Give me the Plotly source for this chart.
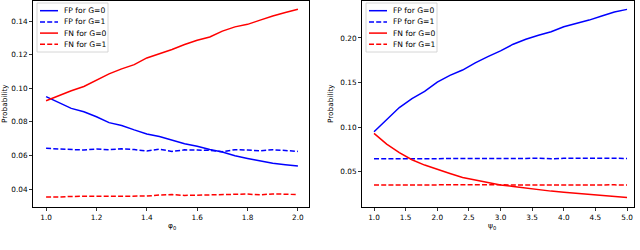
import plotly.graph_objects as go

# ---------------- data ----------------
x_left = [1.00, 1.05, 1.10, 1.15, 1.20, 1.25, 1.30, 1.35, 1.40, 1.45, 1.50,
          1.55, 1.60, 1.65, 1.70, 1.75, 1.80, 1.85, 1.90, 1.95, 2.00]
fp_g0_left = [0.0950, 0.0915, 0.0880, 0.0860, 0.0830, 0.0795, 0.0778, 0.0752, 0.0728, 0.0712, 0.0690,
              0.0670, 0.0655, 0.0635, 0.0620, 0.0598, 0.0582, 0.0568, 0.0553, 0.0545, 0.0537]
fp_g1_left = [0.0642, 0.0640, 0.0637, 0.0632, 0.0638, 0.0634, 0.0639, 0.0635, 0.0626, 0.0637, 0.0624,
              0.0633, 0.0632, 0.0630, 0.0622, 0.0634, 0.0632, 0.0627, 0.0634, 0.0630, 0.0624]
fn_g0_left = [0.0925, 0.0955, 0.0985, 0.1010, 0.1050, 0.1085, 0.1115, 0.1140, 0.1180, 0.1205, 0.1230,
              0.1260, 0.1285, 0.1305, 0.1340, 0.1365, 0.1380, 0.1405, 0.1430, 0.1450, 0.1470]
fn_g1_left = [0.0353, 0.0352, 0.0356, 0.0357, 0.0356, 0.0355, 0.0360, 0.0358, 0.0358, 0.0364, 0.0367,
              0.0362, 0.0364, 0.0363, 0.0368, 0.0369, 0.0370, 0.0365, 0.0371, 0.0369, 0.0367]

x_right = [1.0, 1.2, 1.4, 1.6, 1.8, 2.0, 2.2, 2.4, 2.6, 2.8, 3.0,
           3.2, 3.4, 3.6, 3.8, 4.0, 4.2, 4.4, 4.6, 4.8, 5.0]
fp_g0_right = [0.0948, 0.1085, 0.1220, 0.1320, 0.1400, 0.1505, 0.1580, 0.1640, 0.1720, 0.1790, 0.1855,
               0.1930, 0.1985, 0.2030, 0.2070, 0.2125, 0.2160, 0.2200, 0.2245, 0.2290, 0.2320]
fp_g1_right = [0.0645, 0.0645, 0.0643, 0.0644, 0.0648, 0.0646, 0.0645, 0.0650, 0.0645, 0.0648, 0.0651,
               0.0647, 0.0650, 0.0653, 0.0646, 0.0651, 0.0652, 0.0648, 0.0652, 0.0653, 0.0650]
fn_g0_right = [0.0930, 0.0810, 0.0715, 0.0635, 0.0575, 0.0525, 0.0480, 0.0435, 0.0405, 0.0380, 0.0352,
               0.0335, 0.0315, 0.0298, 0.0283, 0.0270, 0.0258, 0.0246, 0.0234, 0.0222, 0.0212]
fn_g1_right = [0.0352, 0.0353, 0.0352, 0.0354, 0.0353, 0.0352, 0.0354, 0.0353, 0.0352, 0.0353, 0.0354,
               0.0352, 0.0353, 0.0354, 0.0352, 0.0353, 0.0354, 0.0353, 0.0352, 0.0353, 0.0352]

series_labels = ["FP for G=0", "FP for G=1", "FN for G=0", "FN for G=1"]
left_xticks = [1.0, 1.2, 1.4, 1.6, 1.8, 2.0]
left_yticks = [0.04, 0.06, 0.08, 0.10, 0.12, 0.14]
right_xticks = [1.0, 1.5, 2.0, 2.5, 3.0, 3.5, 4.0, 4.5, 5.0]
right_yticks = [0.05, 0.10, 0.15, 0.20]
y_title = "Probability"
x_title_left = "φ<sub>0</sub>"
x_title_right = "ψ<sub>0</sub>"

# ---------------- styles ----------------
W, H = 640, 250
BLUE, RED = "#0000ff", "#ff0000"
DASH = "5px,2.2px"
LW = 1.5
styles = [(BLUE, "solid"), (BLUE, DASH), (RED, "solid"), (RED, DASH)]
FONT = "DejaVu Sans"


def px(x):
    return x / W


def py(y):
    return 1 - y / H


fig = go.Figure()

panels = [
    (x_left, [fp_g0_left, fp_g1_left, fn_g0_left, fn_g1_left], "x", "y"),
    (x_right, [fp_g0_right, fp_g1_right, fn_g0_right, fn_g1_right], "x2", "y2"),
]
for xs, ys_list, xa, ya in panels:
    for ys, (col, dash), name in zip(ys_list, styles, series_labels):
        fig.add_trace(go.Scatter(x=xs, y=ys, mode="lines", name=name,
                                 line=dict(color=col, width=LW, dash=dash),
                                 xaxis=xa, yaxis=ya, showlegend=False,
                                 hoverinfo="skip"))

# frame positions (pixels)
L1, R1 = 33, 309
L2, R2 = 362, 634
TOP, BOT = 1, 207

axis_common = dict(showline=True, linecolor="black", linewidth=1, mirror=True,
                   ticks="outside", ticklen=3, tickwidth=0.8, tickcolor="black",
                   showgrid=False, zeroline=False,
                   tickfont=dict(family=FONT, size=7.3, color="black"))

fig.update_layout(
    width=W, height=H,
    margin=dict(l=0, r=0, t=0, b=0),
    paper_bgcolor="white", plot_bgcolor="white",
    xaxis=dict(domain=[px(L1), px(R1)], range=[0.948, 2.044],
               tickvals=left_xticks, tickformat=".1f", anchor="y", **axis_common),
    yaxis=dict(domain=[py(BOT), py(TOP)], range=[0.0293, 0.1519],
               tickvals=left_yticks, tickformat=".2f", anchor="x", **axis_common),
    xaxis2=dict(domain=[px(L2), px(R2)], range=[0.81, 5.11],
                tickvals=right_xticks, tickformat=".1f", anchor="y2", **axis_common),
    yaxis2=dict(domain=[py(BOT), py(TOP)], range=[0.0105, 0.2414],
                tickvals=right_yticks, tickformat=".2f", anchor="x2", **axis_common),
)

annotations = []
shapes = []

# axis titles
for xc, yc in [(5, 104), (331, 104)]:
    annotations.append(dict(text=y_title, x=px(xc), y=py(yc), xref="paper", yref="paper",
                            showarrow=False, textangle=-90, xanchor="center", yanchor="middle",
                            font=dict(family=FONT, size=7.3, color="black")))
for txt, xc in [(x_title_left, 172), (x_title_right, 492)]:
    annotations.append(dict(text=txt, x=px(xc), y=py(226), xref="paper", yref="paper",
                            showarrow=False, xanchor="center", yanchor="middle",
                            font=dict(family=FONT, size=7.5, color="black")))

# custom legends (matplotlib-like compact box)
for frame_left in (L1, L2):
    bx0, bx1 = frame_left + 4, frame_left + 75
    by0, by1 = 3, 52
    shapes.append(dict(type="rect", xref="paper", yref="paper",
                       x0=px(bx0), x1=px(bx1), y0=py(by1), y1=py(by0),
                       line=dict(color="#cccccc", width=0.8),
                       fillcolor="rgba(255,255,255,0.8)", layer="above"))
    for i, (name, (col, dash)) in enumerate(zip(series_labels, styles)):
        yc = 10.7 + i * 11.2
        shapes.append(dict(type="line", xref="paper", yref="paper",
                           x0=px(frame_left + 7), x1=px(frame_left + 25),
                           y0=py(yc), y1=py(yc),
                           line=dict(color=col, width=LW, dash=dash), layer="above"))
        annotations.append(dict(text=name, x=px(frame_left + 28.5), y=py(yc),
                                xref="paper", yref="paper", showarrow=False,
                                xanchor="left", yanchor="middle",
                                font=dict(family=FONT, size=7.6, color="black")))

fig.update_layout(annotations=annotations, shapes=shapes)

fig.write_html(
    "out.html",
    config={"displayModeBar": False, "staticPlot": True},
    post_script="document.body.style.margin='0';document.body.style.overflow='hidden';",
)
